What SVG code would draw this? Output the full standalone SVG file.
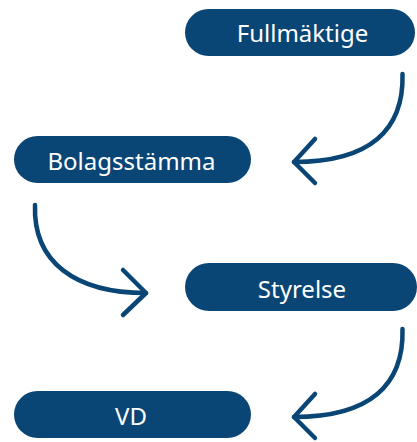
<svg xmlns="http://www.w3.org/2000/svg" width="417" height="442" viewBox="0 0 417 442">
<style>
.box{fill:#0a4675}
.lbl{fill:#ffffff;font-family:"Noto Sans","Open Sans",sans-serif;font-size:24px;font-weight:400;text-anchor:middle}
.con{fill:none;stroke:#0a4675;stroke-width:4.5;stroke-linecap:round;stroke-linejoin:round}
</style>
<rect width="417" height="442" fill="#ffffff"/>
<g id="fullmaktige"><rect class="box" x="185" y="9" width="230" height="47" rx="23.5"/><text class="lbl" x="302.5" y="42">Fullmäktige</text></g>
<g id="bolagsstamma"><rect class="box" x="14" y="136" width="237" height="47" rx="23.5"/><text class="lbl" x="131.5" y="170">Bolagsstämma</text></g>
<g id="styrelse"><rect class="box" x="185" y="263" width="232" height="48" rx="24"/><text class="lbl" x="302" y="298">Styrelse</text></g>
<g id="vd"><rect class="box" x="14" y="391" width="237" height="47" rx="23.5"/><text class="lbl" x="131" y="425">VD</text></g>
<g id="connectors">
<path class="con" d="M402.5 74 C404 130 370 162 294 162"/>
<path class="con" d="M315 139 L294 162 L315 183"/>
<path class="con" d="M35 205 C33 262 75 293 146 293"/>
<path class="con" d="M123 270 L146 293 L123 315"/>
<path class="con" d="M402.5 329 C404 385 370 417 294 417"/>
<path class="con" d="M315 394 L294 417 L315 438"/>
</g>
</svg>
